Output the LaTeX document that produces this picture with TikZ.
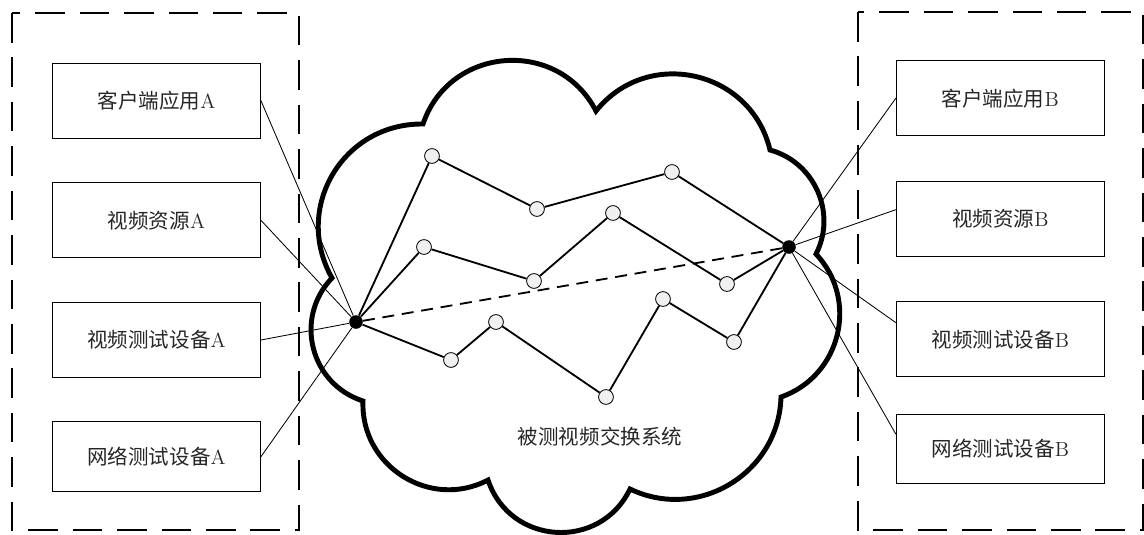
\documentclass[tikz,border=0pt]{standalone}
\usepackage{fontspec}
\newfontfamily\cjk{Noto Sans CJK SC}

\begin{document}
\begin{tikzpicture}[x=0.025cm,y=-0.025cm,
    devbox/.style={draw,line width=0.6pt,minimum width=5.2cm,minimum height=1.88cm,
        inner sep=0pt,text=black!85,font=\cjk\fontsize{14.6pt}{16pt}\selectfont},
    relay/.style={circle,draw,line width=0.6pt,fill=gray!12,inner sep=0pt,minimum size=0.37cm},
    hub/.style={circle,fill=black,inner sep=0pt,minimum size=0.34cm},
    frame/.style={line width=1.3pt,dash pattern=on 21pt off 10.6pt},
    link/.style={line width=0.6pt},
    route/.style={line width=1.3pt},
    cloudline/.style={line width=3.5pt,line join=miter}]
    \useasboundingbox (0,0) rectangle (1144,534);

    % dashed frames
    \draw[frame] (12,13) rectangle (299,530);
    \draw[frame] (858,12) rectangle (1143,530);

    % side A
    \node[devbox] (a1) at (156.5,100.7) {客户端应用{\rmfamily A}};
    \node[devbox] (a2) at (156.5,220.3) {视频资源{\rmfamily A}};
    \node[devbox] (a3) at (156.5,340) {视频测试设备{\rmfamily A}};
    \node[devbox,minimum height=1.75cm] (a4) at (156.5,456.7) {网络测试设备{\rmfamily A}};

    % side B
    \node[devbox] (b1) at (1000.3,98.2) {客户端应用{\rmfamily B}};
    \node[devbox] (b2) at (1000.3,218.8) {视频资源{\rmfamily B}};
    \node[devbox] (b3) at (1000.3,339.2) {视频测试设备{\rmfamily B}};
    \node[devbox,minimum height=1.73cm] (b4) at (1000.3,448.8) {网络测试设备{\rmfamily B}};

    \node[hub] (hA) at (356,322) {};
    \node[hub] (hB) at (789,247) {};

    \draw[link] (a1.east) -- (hA);
    \draw[link] (a2.east) -- (hA);
    \draw[link] (a3.east) -- (hA);
    \draw[link] (a4.east) -- (hA);
    \draw[link] (hB) -- (b1.west);
    \draw[link] (hB) -- (b2.175);
    \draw[link] (hB) -- (b3.171);
    \draw[link] (hB) -- (b4.172);

    % cloud
    \draw[cloudline] (332,278)
        to[out=60,in=120,relative,looseness=1.15] (423,124)
        to[out=67,in=113,relative,looseness=1.22] (596,111)
        to[out=64,in=116,relative,looseness=1.18] (770,150)
        to[out=51,in=129,relative,looseness=1.04] (816,254)
        to[out=57,in=123,relative,looseness=1.1] (781,397)
        to[out=57,in=123,relative,looseness=1.1] (630,489)
        to[out=68,in=112,relative,looseness=1.24] (488,480)
        to[out=60,in=120,relative,looseness=1.13] (363,401)
        to[out=58,in=122,relative,looseness=1.12] cycle;
    \node[text=black!85,font=\cjk\fontsize{14.6pt}{16pt}\selectfont] (sys) at (600,437) {被测视频交换系统};

    % relays
    \node[relay] (r11) at (432,156) {};
    \node[relay] (r12) at (537,209) {};
    \node[relay] (r13) at (672,172) {};
    \node[relay] (r21) at (424,247) {};
    \node[relay] (r22) at (534,281) {};
    \node[relay] (r23) at (613,213) {};
    \node[relay] (r24) at (727,284) {};
    \node[relay] (r31) at (451,360) {};
    \node[relay] (r32) at (496,322) {};
    \node[relay] (r33) at (606,397) {};
    \node[relay] (r34) at (663,299) {};
    \node[relay] (r35) at (734,342) {};

    \draw[route] (hA) -- (r11) -- (r12) -- (r13) -- (hB);
    \draw[route] (hA) -- (r21) -- (r22) -- (r23) -- (r24) -- (hB);
    \draw[route] (hA) -- (r31) -- (r32) -- (r33) -- (r34) -- (r35) -- (hB);
    \draw[route,dash pattern=on 8.5pt off 5.5pt] (hA) -- (hB);
\end{tikzpicture}
\end{document}
